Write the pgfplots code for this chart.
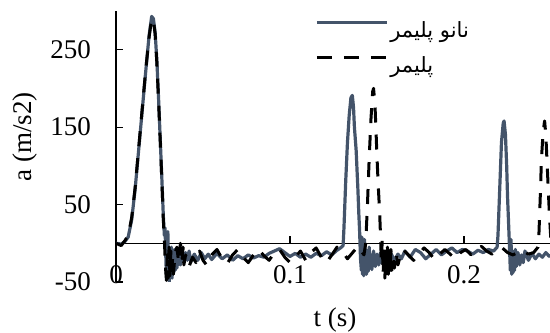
\documentclass[border=0pt]{standalone}
\usepackage{fontspec}
\setmainfont{Liberation Serif}
\newfontfamily\arabicfont[Script=Arabic]{DejaVu Sans}
\usepackage{pgfplots}
\pgfplotsset{compat=1.18}
\TeXXeTstate=1
\definecolor{nano}{HTML}{44546A}

\begin{document}
\fontsize{27}{31}\selectfont
\begin{tikzpicture}
\begin{axis}[
  scale only axis, width=434pt, height=271pt,
  xmin=0, xmax=0.2494, ymin=-50, ymax=300,
  axis lines*=left,
  x axis line style={draw=none},
  y axis line style={black, line width=1.4pt},
  xtick={0,0.1,0.2}, xticklabels={0,0.1,0.2},
  ytick={-50,50,150,250},
  tick align=inside, major tick length=7pt,
  xtick style={draw=none},
  ytick style={black, line width=1.2pt},
  /pgf/number format/assume math mode=true,
  yticklabel style={anchor=east, inner sep=0pt, xshift=-25pt},
  xticklabel style={anchor=center, inner sep=0pt, yshift=7pt},
  xlabel={t (s)}, xlabel style={at={(rel axis cs:0.5046,-0.140)}, anchor=center},
  ylabel={a (m/s2)}, ylabel style={at={(rel axis cs:-0.2097,0.535)}, anchor=center},
  legend style={at={(rel axis cs:0.4585,0.969)}, anchor=north west, draw=none, fill=none,
    inner sep=0pt, row sep=11pt, font=\arabicfont\fontsize{21}{24}\selectfont,
    nodes={inner sep=2pt}},
  legend cell align=left,
  legend image code/.code={\draw[#1] (0pt,9pt) -- (70pt,9pt);},
  clip=true,
]
\coordinate (SW) at (rel axis cs:0,0);
\coordinate (NE) at (rel axis cs:1,1);
\draw[black, line width=1.4pt] (axis cs:0,0) -- (axis cs:0.2494,0);
\draw[black, line width=1.2pt] (axis cs:0.1,0) -- ([yshift=7pt]axis cs:0.1,0);
\draw[black, line width=1.2pt] (axis cs:0.2,0) -- ([yshift=7pt]axis cs:0.2,0);
\addplot[nano, line width=3.2pt, line join=round] coordinates {
(0,0) (0.003,-1) (0.005,2) (0.007,8) (0.009,30) (0.011,70) (0.013,120) (0.015,170)
(0.017,220) (0.019,268) (0.0205,293) (0.0215,290) (0.0225,272) (0.0235,235) (0.0245,185)
(0.0255,130) (0.0265,75) (0.0272,35) (0.0278,10) (0.0282,20) (0.0286,-15) (0.029,-45)
(0.0294,-20) (0.0298,15) (0.0302,-30) (0.0306,-50) (0.031,-10) (0.0314,-40) (0.0318,-5)
(0.0322,-45) (0.0326,-15) (0.033,-38) (0.0335,-8) (0.034,-35) (0.0345,-12) (0.035,-32)
(0.036,-10) (0.037,-28) (0.038,-8) (0.039,-25) (0.040,-12) (0.041,-22) (0.042,-10)
(0.043,-24) (0.045,-14) (0.047,-22) (0.049,-12) (0.051,-20) (0.053,-14) (0.055,-21)
(0.058,-13) (0.061,-20) (0.064,-15) (0.067,-22) (0.070,-16) (0.073,-20) (0.076,-15)
(0.079,-19) (0.082,-16) (0.085,-18) (0.088,-13) (0.091,-10) (0.094,-7) (0.097,-12)
(0.100,-17) (0.103,-13) (0.106,-18) (0.109,-14) (0.112,-18) (0.115,-13) (0.118,-16)
(0.121,-11) (0.124,-15) (0.127,-9) (0.129,-6) (0.1305,-3) (0.131,20) (0.132,80)
(0.133,130) (0.134,165) (0.135,188) (0.1358,191) (0.1365,175) (0.137,150) (0.138,120)
(0.1385,95) (0.139,70) (0.1395,40) (0.140,15) (0.1405,-20) (0.141,-35) (0.1413,8)
(0.1417,-40) (0.142,-10) (0.1424,-42) (0.1428,5) (0.1432,-38) (0.1436,-8) (0.144,-40)
(0.1445,-12) (0.145,-36) (0.1455,-5) (0.146,-32) (0.1465,-15) (0.147,-34) (0.148,-10)
(0.149,-30) (0.150,-14) (0.151,-28) (0.152,-12) (0.153,-26) (0.154,-15) (0.156,-24)
(0.158,-13) (0.160,-22) (0.162,-14) (0.164,-20) (0.166,-10) (0.169,-18) (0.172,-8)
(0.175,-12) (0.178,-20) (0.181,-14) (0.184,-8) (0.187,-15) (0.190,-10) (0.193,-6)
(0.196,-12) (0.199,-8) (0.202,-10) (0.205,-14) (0.208,-9) (0.211,-12) (0.214,-8)
(0.217,-10) (0.219,-5) (0.2195,10) (0.2205,70) (0.2215,130) (0.2225,155) (0.2230,158)
(0.2238,140) (0.2245,100) (0.225,60) (0.2257,20) (0.2262,-10) (0.2266,-35) (0.227,5)
(0.2274,-40) (0.2278,-10) (0.2282,-38) (0.2286,-15) (0.229,-35) (0.2295,-8) (0.230,-30)
(0.231,-12) (0.232,-28) (0.233,-15) (0.234,-25) (0.235,-10) (0.237,-22) (0.239,-13)
(0.241,-20) (0.243,-14) (0.245,-18) (0.247,-12) (0.249,-17) (0.251,-14)
};
\addlegendentry{\beginR نانو پلیمر\endR}
\addplot[black, line width=3pt, line join=round, dash pattern=on 15pt off 12pt] coordinates {
(0,0) (0.003,-3) (0.005,3) (0.007,10) (0.009,33) (0.011,72) (0.013,122) (0.015,172)
(0.017,222) (0.019,266) (0.0205,290) (0.0215,288) (0.0225,270) (0.0235,232) (0.0245,182)
(0.0255,128) (0.0265,72) (0.0272,30) (0.0278,5) (0.0284,-30) (0.029,-48) (0.0295,-15)
(0.030,-45) (0.0305,-5) (0.031,-42) (0.0315,-10) (0.032,-35) (0.0325,-20) (0.033,-40)
(0.034,-12) (0.035,-5) (0.036,-25) (0.037,0) (0.038,-20) (0.0385,-5) (0.039,-28)
(0.040,-15) (0.042,-30) (0.044,-18) (0.046,-25) (0.048,-10) (0.050,-22) (0.052,-28)
(0.055,-15) (0.058,-8) (0.061,-20) (0.064,-26) (0.067,-15) (0.070,-8) (0.073,-18)
(0.076,-25) (0.079,-15) (0.082,-8) (0.085,-16) (0.088,-22) (0.091,-12) (0.094,-8)
(0.097,-18) (0.100,-25) (0.103,-18) (0.106,-10) (0.109,-22) (0.112,-12) (0.115,-6)
(0.118,-18) (0.121,-25) (0.124,-15) (0.127,-5) (0.130,-10) (0.133,-20) (0.136,-12)
(0.139,-4) (0.141,-10) (0.1425,-15) (0.1435,0) (0.1445,50) (0.1455,110) (0.1465,160)
(0.1475,196) (0.148,200) (0.1488,180) (0.1495,140) (0.150,110) (0.1508,70) (0.1515,40)
(0.152,10) (0.1525,-25) (0.153,5) (0.1535,-40) (0.154,-5) (0.1545,-45) (0.155,-10)
(0.1555,-42) (0.156,-5) (0.1565,-40) (0.157,-12) (0.1575,-38) (0.158,-8) (0.1585,-35)
(0.159,-15) (0.160,-32) (0.161,-12) (0.162,-28) (0.1635,-15) (0.165,-8) (0.168,-15)
(0.171,-22) (0.174,-14) (0.177,-6) (0.180,-12) (0.183,-21) (0.186,-14) (0.189,-8)
(0.192,-14) (0.195,-20) (0.198,-12) (0.201,-8) (0.204,-15) (0.207,-9) (0.210,-4)
(0.213,-10) (0.216,-14) (0.219,-8) (0.222,-6) (0.225,-12) (0.228,-15) (0.231,-12)
(0.234,-10) (0.237,-14) (0.240,-12) (0.2425,-5) (0.243,10) (0.2438,60) (0.2445,110)
(0.2455,145) (0.2463,158) (0.247,140) (0.248,90) (0.249,40) (0.250,0)
};
\addlegendentry{\beginR پلیمر\endR}
\end{axis}
\pgfresetboundingbox
\path ([xshift=-116pt,yshift=-51pt]SW) rectangle ([yshift=11pt]NE);
\end{tikzpicture}
\end{document}
